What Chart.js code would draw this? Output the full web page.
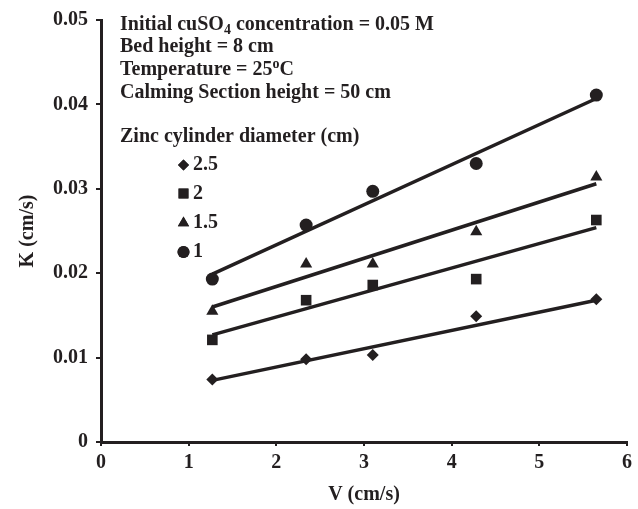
<!DOCTYPE html>
<html><head><meta charset="utf-8">
<script src="https://cdn.jsdelivr.net/npm/chart.js@4/dist/chart.umd.min.js"></script>
<style>html,body{margin:0;padding:0;background:#fff}#wrap{width:638px;height:509px;position:relative}</style>
</head><body><div id="wrap"><canvas id="c" width="638" height="509"></canvas></div>
<script>
// ---- data ----
const velocities = [1.27, 2.34, 3.1, 4.28, 5.65];
const diameterLabels = ['2.5', '2', '1.5', '1'];
const k_d25 = [0.0074, 0.0098, 0.0103, 0.0149, 0.0169];
const k_d2  = [0.0121, 0.0168, 0.0186, 0.0193, 0.0263];
const k_d15 = [0.0155, 0.0211, 0.0211, 0.0249, 0.0314];
const k_d1  = [0.0193, 0.0257, 0.0297, 0.0330, 0.0411];
const trendX = [1.27, 5.65];
const trend_d25 = [0.0073, 0.0168];
const trend_d2  = [0.0127, 0.0254];
const trend_d15 = [0.0160, 0.0306];
const trend_d1  = [0.0199, 0.0407];
const xTickLabels = ['0', '1', '2', '3', '4', '5', '6'];
const yTickLabels = ['0', '0.01', '0.02', '0.03', '0.04', '0.05'];
const infoLines = ['Bed height = 8 cm', 'Calming Section height = 50 cm'];
const legendTitle = 'Zinc cylinder diameter (cm)';

const INK = '#231f20';
const FONT = 'Liberation Serif';
const styles = ['rectRot', 'rect', 'triangle', 'circle'];
const radii = [6, 7.5, 7, 6.5];
const seriesK = [k_d25, k_d2, k_d15, k_d1];
const seriesT = [trend_d25, trend_d2, trend_d15, trend_d1];

const toPts = (xs, ys) => xs.map((x, i) => ({x, y: ys[i]}));
const datasets = [];
seriesK.forEach((ys, i) => {
  datasets.push({
    type: 'scatter', label: diameterLabels[i], data: toPts(velocities, ys),
    pointStyle: styles[i], pointRadius: radii[i], pointHoverRadius: radii[i],
    backgroundColor: INK, borderColor: INK, borderWidth: 0, showLine: false
  });
});
seriesT.forEach((ys, i) => {
  datasets.push({
    type: 'line', label: 'trend ' + diameterLabels[i], data: toPts(trendX, ys),
    borderColor: INK, borderWidth: 3.5, pointRadius: 0, fill: false, tension: 0
  });
});

const annot = {
  id: 'annot',
  afterDraw(chart) {
    const ctx = chart.ctx;
    ctx.save();
    ctx.fillStyle = INK;
    ctx.textBaseline = 'middle';
    ctx.textAlign = 'left';
    const f = 'bold 20px "' + FONT + '"';
    const fs = 'bold 14px "' + FONT + '"';
    let x = 120;
    ctx.font = f;
    let t1 = 'Initial cuSO';
    ctx.fillText(t1, x, 25); x += ctx.measureText(t1).width;
    ctx.font = fs; ctx.fillText('4', x, 30); x += ctx.measureText('4').width;
    ctx.font = f; ctx.fillText(' concentration = 0.05 M', x, 25);
    ctx.fillText(infoLines[0], 120, 47);
    x = 120; let t3 = 'Temperature = 25';
    ctx.fillText(t3, x, 70); x += ctx.measureText(t3).width;
    ctx.font = fs; ctx.fillText('o', x, 64); x += ctx.measureText('o').width;
    ctx.font = f; ctx.fillText('C', x, 70);
    ctx.fillText(infoLines[1], 120, 93);
    ctx.fillText(legendTitle, 120, 137);
    const ly = [165, 193.5, 223, 252];
    diameterLabels.forEach((lab, i) => {
      Chart.helpers.drawPoint(ctx, {pointStyle: styles[i], radius: radii[i] - 0.5, rotation: 0, borderWidth: 0}, 183.5, ly[i]);
      ctx.fill();
      ctx.fillText(lab, 193, ly[i]);
    });
    ctx.restore();
  }
};

const tickFont = {family: FONT, size: 20, weight: 'bold'};
new Chart(document.getElementById('c'), {
  type: 'scatter',
  data: {datasets},
  plugins: [annot],
  options: {
    responsive: false, devicePixelRatio: 1, animation: false,
    layout: {padding: {left: 0, right: 11, top: 18, bottom: 0}},
    plugins: {legend: {display: false}, tooltip: {enabled: false}},
    scales: {
      x: {
        type: 'linear', min: 0, max: 6,
        ticks: {stepSize: 1, color: INK, font: tickFont, padding: 5,
          callback: (v) => xTickLabels[Math.round(v)] },
        grid: {drawOnChartArea: false, drawTicks: true, tickLength: 4, color: INK, lineWidth: 2},
        border: {display: true, color: INK, width: 3},
        title: {display: true, text: 'V (cm/s)', color: INK, font: {family: FONT, size: 20, weight: 'bold'}, padding: {top: 0, bottom: 2}},
        afterFit: (s) => { s.height = 67; }
      },
      y: {
        type: 'linear', min: 0, max: 0.05,
        ticks: {stepSize: 0.01, color: INK, font: tickFont, padding: 8,
          callback: (v) => yTickLabels[Math.round(v * 100)] },
        grid: {drawOnChartArea: false, drawTicks: true, tickLength: 5, color: INK, lineWidth: 2},
        border: {display: true, color: INK, width: 3},
        title: {display: true, text: 'K (cm/s)', color: INK, font: {family: FONT, size: 20, weight: 'bold'}, padding: {top: 16, bottom: 0}},
        afterFit: (s) => { s.width = 101; }
      }
    }
  }
});
</script></body></html>
